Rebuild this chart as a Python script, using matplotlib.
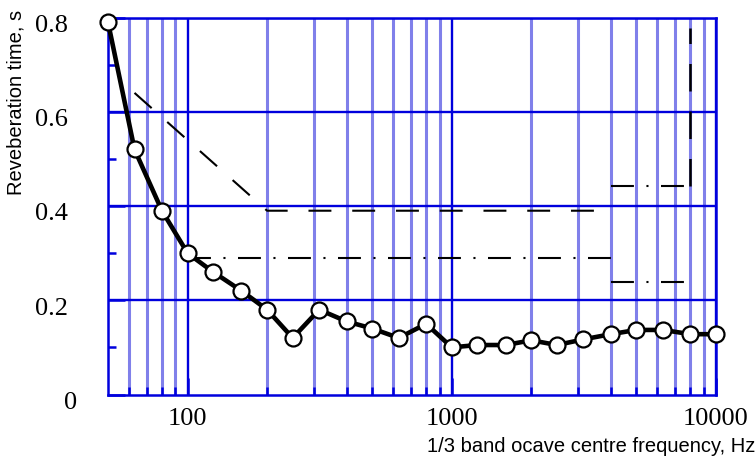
import matplotlib
matplotlib.use("Agg")
import matplotlib.pyplot as plt
from matplotlib.ticker import FixedLocator, NullFormatter
from matplotlib.transforms import ScaledTranslation

# 1/3 octave band centre frequencies and measured reverberation times
freqs = [50, 63, 80, 100, 125, 160, 200, 250, 315, 400, 500, 630,
         800, 1000, 1250, 1600, 2000, 2500, 3150, 4000, 5000, 6300, 8000, 10000]
rt = [0.79, 0.52, 0.39, 0.30, 0.26, 0.22, 0.18, 0.12, 0.18, 0.155, 0.14, 0.12,
      0.15, 0.10, 0.105, 0.105, 0.115, 0.105, 0.117, 0.128, 0.137, 0.137, 0.128, 0.128]

# tolerance limits
upper_f = [63, 200, 4000]
upper_t = [0.64, 0.39, 0.39]
lower_f = [100, 4000]
lower_t = [0.29, 0.29]
hf_upper_f = [4000, 8000]
hf_upper_t = [0.443, 0.443]
hf_vert_f = [8000, 8000]
hf_vert_t = [0.443, 0.777]
hf_lower_f = [4000, 8000]
hf_lower_t = [0.238, 0.238]

y_major = [0, 0.2, 0.4, 0.6, 0.8]
y_minor = [0.1, 0.3, 0.5, 0.7]
x_major = [100, 1000, 10000]
x_minor = [60, 70, 80, 90, 200, 300, 400, 500, 600, 700, 800, 900,
           2000, 3000, 4000, 5000, 6000, 7000, 8000, 9000]

dark = "#0000dd"
light = "#8080ea"

fig = plt.figure(figsize=(7.56, 4.63), dpi=100)
ax = fig.add_axes([108 / 756, 1 - 394.5 / 463, 608 / 756, 377 / 463])

ax.set_xscale("log")
ax.set_xlim(50, 10000)
ax.set_ylim(0, 0.8)

# grid
for f in x_minor:
    ax.axvline(f, color=light, lw=2.2, zorder=1)
for f in x_major:
    ax.axvline(f, color=dark, lw=1.7, zorder=1.5)
for v in y_major[1:]:
    ax.axhline(v, color=dark, lw=1.7, zorder=1.5)

for s in ax.spines.values():
    s.set_color(dark)
    s.set_linewidth(1.8)

ax.xaxis.set_major_locator(FixedLocator(x_major))
ax.xaxis.set_minor_locator(FixedLocator(x_minor))
ax.xaxis.set_minor_formatter(NullFormatter())
ax.set_xticklabels([str(f) for f in x_major])
ax.yaxis.set_major_locator(FixedLocator(y_major))
ax.yaxis.set_minor_locator(FixedLocator(y_minor))
ax.set_yticklabels(["0", "0.2", "0.4", "0.6", "0.8"])

ax.tick_params(which="major", direction="in", length=12, width=1.8, color=dark)
ax.tick_params(which="minor", direction="in", length=6, width=1.8, color=dark)
ax.tick_params(axis="x", which="major", pad=10)
ax.tick_params(axis="y", which="major", pad=29)
for lab in ax.get_xticklabels() + ax.get_yticklabels():
    lab.set_fontfamily("Liberation Serif")
    lab.set_fontsize(19)

# y labels sit a little below their ticks; the zero is nudged right
for i, tick in enumerate(ax.yaxis.get_major_ticks()):
    dx = 9 / 100 if i == 0 else 0
    tick.label1.set_transform(tick.label1.get_transform()
                              + ScaledTranslation(dx, -6 / 100, fig.dpi_scale_trans))

# tolerance lines
ax.plot(upper_f, upper_t, color="black", lw=1.5, dashes=(11, 10), zorder=3)
ax.plot(lower_f, lower_t, color="black", lw=1.5, dashes=(11, 6, 1, 6), zorder=3)
ax.plot(hf_upper_f, hf_upper_t, color="black", lw=1.5, dashes=(11, 6, 1, 6), zorder=3)
ax.plot(hf_vert_f, hf_vert_t, color="black", lw=1.8, dashes=(11, 8), zorder=3)
ax.plot(hf_lower_f, hf_lower_t, color="black", lw=1.5, dashes=(11, 6, 1, 6), zorder=3)

# measured curve
ax.plot(freqs, rt, color="black", lw=3.3, marker="o", ms=11.5,
        mfc="white", mec="black", mew=1.6, zorder=4, clip_on=False)

fig.text(16.5 / 756, 1 - 102.5 / 463, "Reveberation time, s", rotation=90,
         ha="center", va="center", fontsize=14.5, family="Liberation Sans")
fig.text(755 / 756, 1 - 451.7 / 463, "1/3 band ocave centre frequency, Hz",
         ha="right", va="baseline", fontsize=14.5, family="Liberation Sans")

fig.savefig("out.png", dpi=100)
